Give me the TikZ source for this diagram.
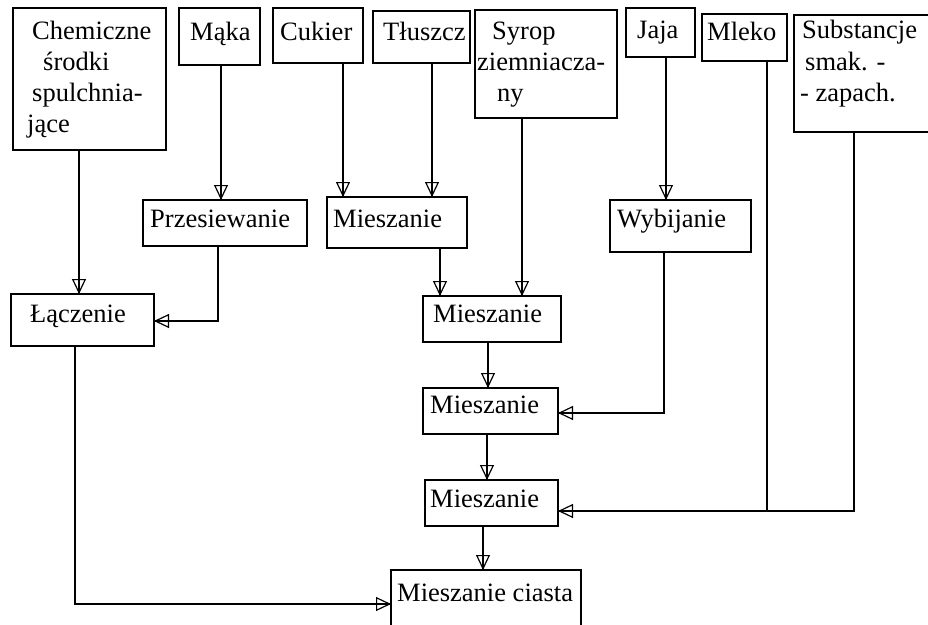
\documentclass[tikz,border=0pt]{standalone}
\usepackage{fontspec}
\setmainfont{Liberation Serif}
\usetikzlibrary{arrows.meta}
\begin{document}
\begin{tikzpicture}[x=1pt,y=-1pt,
  box/.style={draw, line width=1.2pt, anchor=north west, inner sep=0pt, outer sep=0pt},
  lbl/.style={anchor=base west, inner sep=0pt, font=\fontsize{26.5}{31}\selectfont},
  plain/.style={draw, line width=1.2pt},
  conn/.style={draw, line width=1.2pt, postaction={draw, -{Triangle[open, length=15pt, width=14pt]}}}]
\fill[white] (0,0) rectangle (928,624);
\useasboundingbox (0,0) rectangle (928,624);
% boxes
\node[box, minimum width=153pt, minimum height=142pt] (chem) at (13,8) {};
\node[box, minimum width=81pt, minimum height=57pt] (maka) at (179,8) {};
\node[box, minimum width=90pt, minimum height=55pt] (cuk) at (273,8) {};
\node[box, minimum width=97pt, minimum height=52pt] (tl) at (373,11) {};
\node[box, minimum width=142pt, minimum height=108pt] (syrop) at (475,10) {};
\node[box, minimum width=69pt, minimum height=49pt] (jaja) at (626,8) {};
\node[box, minimum width=85pt, minimum height=47pt] (mleko) at (702,14) {};
\node[box, minimum width=150pt, minimum height=117pt] (subst) at (794,15) {};
\node[box, minimum width=164pt, minimum height=46pt] (przes) at (143,200) {};
\node[box, minimum width=140pt, minimum height=51pt] (mies1) at (327,197) {};
\node[box, minimum width=141pt, minimum height=52pt] (wyb) at (610,200) {};
\node[box, minimum width=143pt, minimum height=52pt] (lacz) at (11,294) {};
\node[box, minimum width=138pt, minimum height=46pt] (mies2) at (423,296) {};
\node[box, minimum width=135pt, minimum height=46pt] (mies3) at (423,388) {};
\node[box, minimum width=133pt, minimum height=46pt] (mies4) at (425,480) {};
\node[box, minimum width=190pt, minimum height=90pt] (ciasto) at (391,570) {};
% labels
\node[lbl] (chemA) at (32,39) {Chemiczne};
\node[lbl] (chemB) at (43,70) {środki};
\node[lbl] (chemC) at (32,101) {spulchnia-};
\node[lbl] (chemD) at (27,132) {jące};
\node[lbl] (makaT) at (190,40) {Mąka};
\node[lbl] (cukT) at (280,40) {Cukier};
\node[lbl] (tlT) at (383,40) {Tłuszcz};
\node[lbl] (syA) at (492,39) {Syrop};
\node[lbl] (syB) at (477,70) {ziemniacza-};
\node[lbl] (syC) at (497,101) {ny};
\node[lbl] (jajaT) at (637,38) {Jaja};
\node[lbl] (mlekoT) at (707,40) {Mleko};
\node[lbl] (suA) at (802,38) {Substancje};
\node[lbl] (suB) at (805,70) {smak. -};
\node[lbl] (suC) at (800,101) {- zapach.};
\node[lbl] (przT) at (150,227) {Przesiewanie};
\node[lbl] (m1T) at (333,227) {Mieszanie};
\node[lbl] (wybT) at (617,227) {Wybijanie};
\node[lbl] (laczT) at (30,322) {Łączenie};
\node[lbl] (m2T) at (433,322) {Mieszanie};
\node[lbl] (m3T) at (430,413) {Mieszanie};
\node[lbl] (m4T) at (430,507) {Mieszanie};
\node[lbl] (ciT) at (397,601) {Mieszanie ciasta};
% guide coordinates
\coordinate (xchem) at (79,0);
\coordinate (xmaka) at (221,0);
\coordinate (xcuk) at (343,0);
\coordinate (xtl) at (432,0);
\coordinate (xprz) at (218,0);
\coordinate (ylacz) at (0,321);
\coordinate (xm1) at (440,0);
\coordinate (xsy) at (522,0);
\coordinate (xjaja) at (666,0);
\coordinate (xm2) at (488,0);
\coordinate (xwyb) at (664,0);
\coordinate (ywyb) at (0,413);
\coordinate (xm3) at (487,0);
\coordinate (xml) at (767,0);
\coordinate (ymix) at (0,511);
\coordinate (xsub) at (854,0);
\coordinate (jgap) at (758,511);
\coordinate (xm4) at (483,0);
\coordinate (xlacz) at (75,0);
\coordinate (ycia) at (0,604);
% connectors
\draw[conn] (chem.south -| xchem) -- (lacz.north -| xchem);
\draw[conn] (maka.south -| xmaka) -- (przes.north -| xmaka);
\draw[conn] (cuk.south -| xcuk) -- (mies1.north -| xcuk);
\draw[conn] (tl.south -| xtl) -- (mies1.north -| xtl);
\draw[conn] (przes.south -| xprz) |- (lacz.east |- ylacz);
\draw[conn] (mies1.south -| xm1) -- (mies2.north -| xm1);
\draw[conn] (syrop.south -| xsy) -- (mies2.north -| xsy);
\draw[conn] (jaja.south -| xjaja) -- (wyb.north -| xjaja);
\draw[conn] (mies2.south -| xm2) -- (mies3.north -| xm2);
\draw[conn] (wyb.south -| xwyb) |- (mies3.east |- ywyb);
\draw[conn] (mies3.south -| xm3) -- (mies4.north -| xm3);
\draw[conn] (mleko.south -| xml) |- (mies4.east |- ymix);
\draw[plain] (subst.south -| xsub) |- (jgap);
\draw[conn] (mies4.south -| xm4) -- (ciasto.north -| xm4);
\draw[conn] (lacz.south -| xlacz) |- (ciasto.west |- ycia);
\end{tikzpicture}
\end{document}
